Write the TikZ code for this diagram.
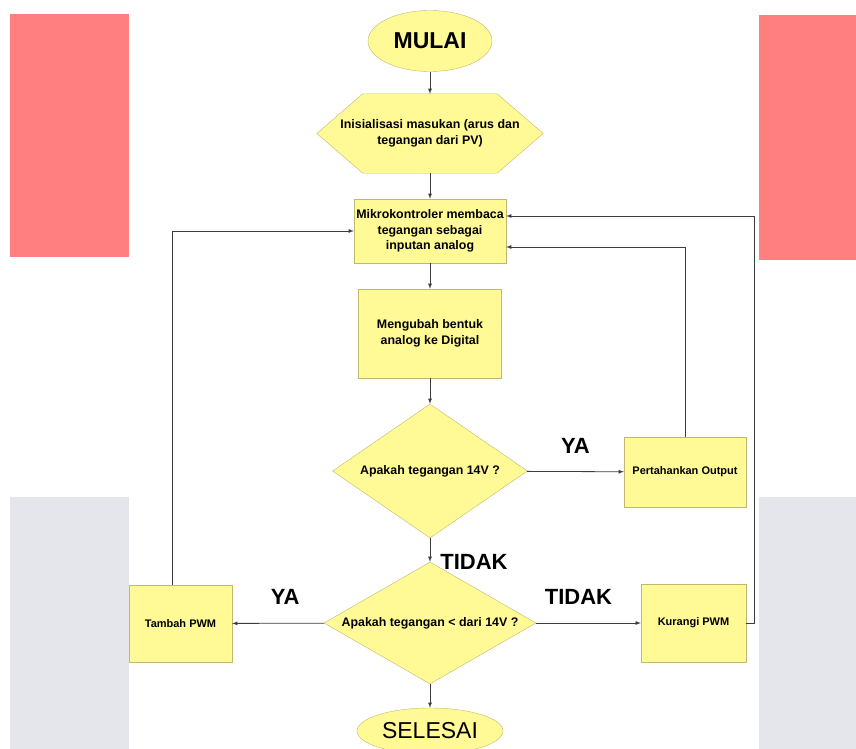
\documentclass[tikz,border=0pt]{standalone}
\usepackage{fontspec}
\setmainfont{Liberation Sans}
\usetikzlibrary{arrows,backgrounds,shapes.geometric}
\definecolor{kuning}{RGB}{255,250,150}
\definecolor{garis}{RGB}{190,185,110}
\definecolor{merah}{RGB}{255,126,128}
\definecolor{abu}{RGB}{228,230,235}
\definecolor{panah}{RGB}{60,60,60}

\begin{document}
\begin{tikzpicture}[x=1pt,y=-1pt,>=latex,
  kotak/.style={draw=garis,fill=kuning,rectangle,align=center,inner sep=0pt,
    font=\fontsize{12.4}{15.5}\selectfont\bfseries},
  kecil/.style={font=\fontsize{11}{15}\selectfont\bfseries},
  keputusan/.style={draw=garis,fill=kuning,diamond,align=center,inner sep=0pt,
    font=\fontsize{12.4}{15.5}\selectfont\bfseries},
  terminal/.style={draw=garis,fill=kuning,ellipse,inner sep=0pt,
    font=\fontsize{23}{27}\selectfont},
  alur/.style={->,draw=panah,line width=0.8pt},
  ket/.style={font=\fontsize{22}{26}\selectfont\bfseries,inner sep=0pt}]
\useasboundingbox (0,0) rectangle (856,749);
\clip (0,0) rectangle (856,749);
\fill[merah] (10,14) rectangle (129,257);
\fill[merah] (759,15) rectangle (856,260);
\fill[abu] (10,497) rectangle (129,749);
\fill[abu] (759,497) rectangle (856,749);

\node[terminal,minimum width=124,minimum height=61,font=\fontsize{23}{27}\selectfont\bfseries] (mulai) at (430,41) {MULAI};
\node[kotak,draw=none,fill=none,minimum width=226,minimum height=79] (init) at (430,133.5)
  {Inisialisasi masukan (arus dan\\tegangan dari PV)};
\begin{scope}[on background layer]
\filldraw[draw=garis,fill=kuning] (init.west) -- ([xshift=46pt]init.north west)
  -- ([xshift=-46pt]init.north east) -- (init.east)
  -- ([xshift=-46pt]init.south east) -- ([xshift=46pt]init.south west) -- cycle;
\end{scope}
\node[kotak,minimum width=152,minimum height=64] (mikro) at (430,231)
  {Mikrokontroler membaca\\tegangan sebagai\\inputan analog};
\node[kotak,minimum width=143,minimum height=89] (ubah) at (430,333.5)
  {Mengubah bentuk\\analog ke Digital};
\node[keputusan,aspect=1.46,minimum width=195,minimum height=134] (cek1) at (430,471)
  {Apakah tegangan 14V ?};
\node[kotak,kecil,minimum width=122,minimum height=70] (tahan) at (685,472)
  {Pertahankan Output};
\node[keputusan,aspect=1.74,minimum width=212,minimum height=122] (cek2) at (430,623)
  {Apakah tegangan < dari 14V ?};
\node[kotak,kecil,minimum width=103,minimum height=77] (tambah) at (180.5,623.5)
  {Tambah PWM};
\node[kotak,kecil,minimum width=105,minimum height=78] (kurang) at (693.5,623)
  {Kurangi PWM};
\node[terminal,minimum width=146,minimum height=46] (selesai) at (430,731) {SELESAI};

\draw[alur] (mulai) -- (init);
\draw[alur] (init) -- (mikro);
\draw[alur] (mikro) -- (ubah);
\draw[alur] (ubah) -- (cek1);
\draw[alur] (cek1) -- node[ket,yshift=26pt] {YA} (tahan);
\draw[alur] (tahan.north) |- ([yshift=-16pt]mikro.east);
\draw[alur] (cek1) -- node[ket,pos=1,anchor=west,xshift=10pt] {TIDAK} (cek2);
\draw[alur] (cek2) -- node[ket,xshift=7pt,yshift=26pt] {YA} (tambah);
\draw[alur] (cek2) -- node[ket,xshift=-10pt,yshift=26pt] {TIDAK} (kurang);
\draw[alur] ([xshift=-8pt]tambah.north) |- (mikro.west);
\draw[alur] (kurang.east) -- ++(8,0) |- ([yshift=15pt]mikro.east);
\draw[alur] (cek2) -- (selesai);
\end{tikzpicture}
\end{document}
